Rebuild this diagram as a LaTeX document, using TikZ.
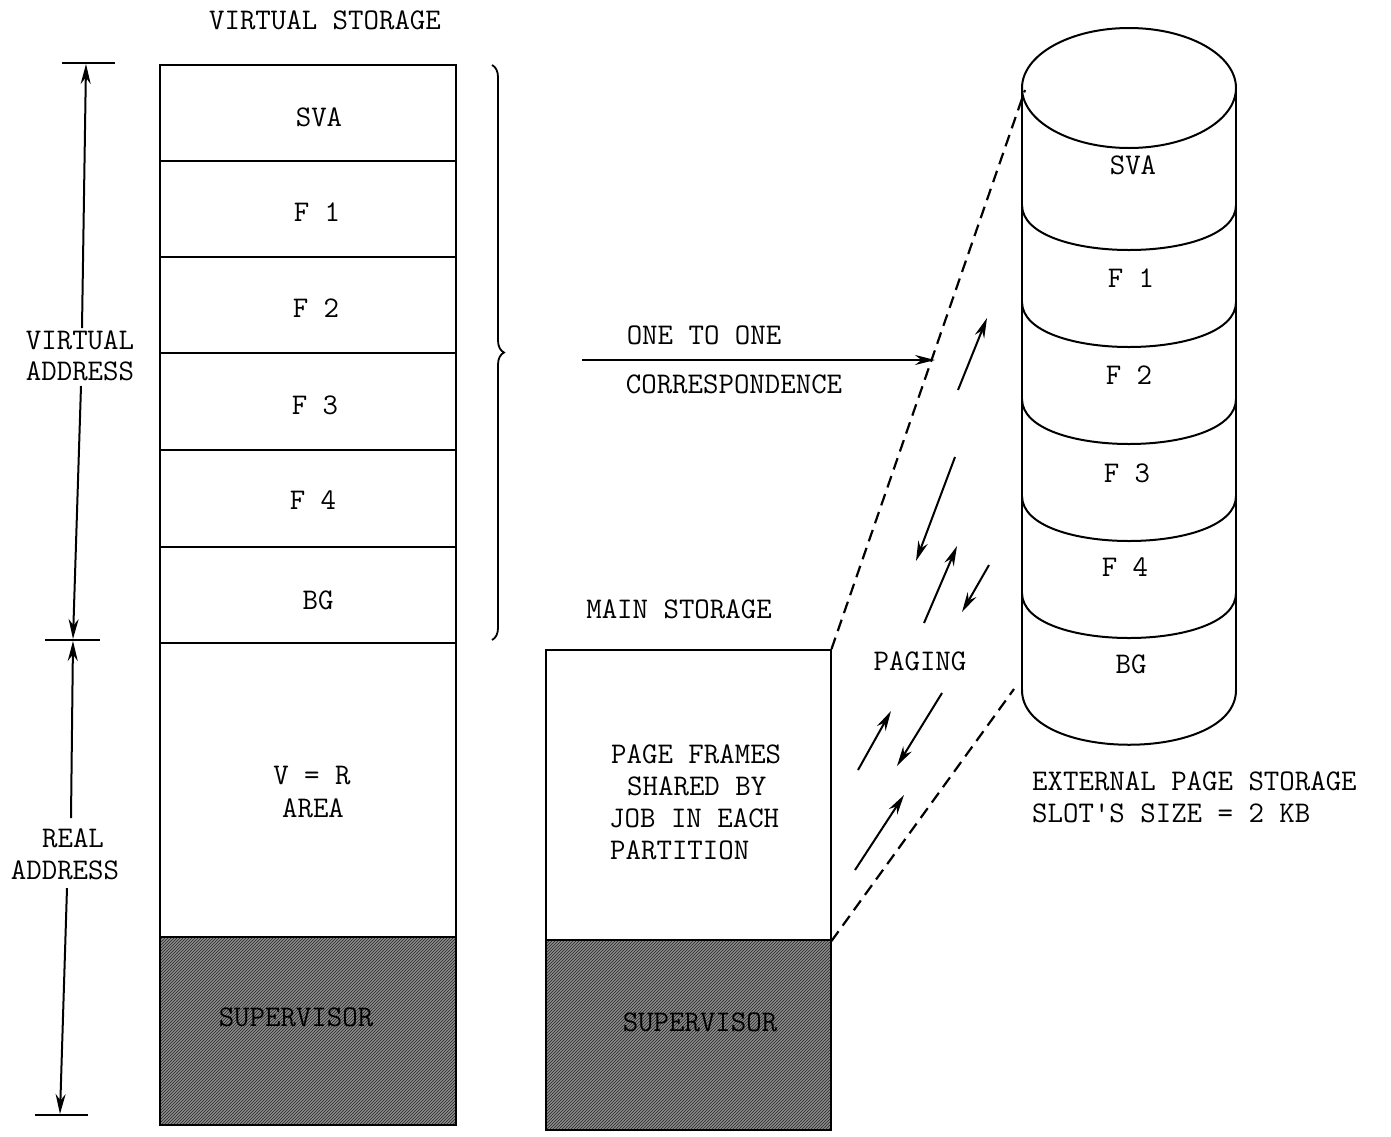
\documentclass[tikz,border=0pt]{standalone}
\usetikzlibrary{arrows.meta,patterns,decorations.pathreplacing}
\begin{document}
\begin{tikzpicture}[x=1pt,y=-1pt,
  txt/.style={font=\fontsize{30}{34}\selectfont\ttfamily, inner sep=0pt},
  box/.style={draw, line width=2pt, inner sep=0pt, font=\fontsize{30}{34}\selectfont\ttfamily},
  col/.style={box, minimum width=296pt},
  mcol/.style={box, minimum width=285pt},
  hatch/.style={preaction={fill=black!45}, pattern=north east lines, pattern color=black!85},
  ln/.style={line width=2pt},
  arr/.style={line width=2pt, -{Stealth[length=20pt,width=10pt]}},
  dashline/.style={line width=2.2pt, dash pattern=on 12pt off 7pt}]
\useasboundingbox (0,0) rectangle (1391,1136);

% ---------- virtual storage column ----------
\node[txt] (vstitle) at (325,20) {VIRTUAL STORAGE};
\node[col, minimum height=96pt] (sva) at (308,113) {};
\node[col, minimum height=96pt] (f1) at (308,209) {};
\node[col, minimum height=96pt] (f2) at (308,305) {};
\node[col, minimum height=97pt] (f3) at (308,401.5) {};
\node[col, minimum height=97pt] (f4) at (308,498.5) {};
\node[col, minimum height=96pt] (bg) at (308,595) {};
\node[col, minimum height=294pt] (vr) at (308,790) {};
\node[col, minimum height=188pt, hatch] (sup) at (308,1031) {};
\node[txt] (svat) at (319,117) {SVA};
\node[txt] (f1t) at (317,212) {F 1};
\node[txt] (f2t) at (316,308) {F 2};
\node[txt] (f3t) at (315,405) {F 3};
\node[txt] (f4t) at (313,500) {F 4};
\node[txt] (bgt) at (318,600) {BG};
\node[txt] (vrt1) at (312,775) {V = R};
\node[txt] (vrt2) at (313,808) {AREA};
\node[txt] (suptxt) at (296,1017) {SUPERVISOR};

% ---------- address axis ----------
\coordinate (t1a) at (62,63);  \coordinate (t1b) at (115,63);
\coordinate (t2a) at (45,640); \coordinate (t2b) at (100,640);
\coordinate (t3a) at (35,1115); \coordinate (t3b) at (88,1115);
\draw[ln] (t1a) -- (t1b);
\draw[ln] (t2a) -- (t2b);
\draw[ln] (t3a) -- (t3b);
\coordinate (a1s) at (82,328);  \coordinate (a1e) at (86,64);
\coordinate (a2s) at (81,386);  \coordinate (a2e) at (73,639);
\coordinate (a3s) at (71,818);  \coordinate (a3e) at (73,641);
\coordinate (a4s) at (67,888);  \coordinate (a4e) at (60,1114);
\draw[arr] (a1s) -- (a1e);
\draw[arr] (a2s) -- (a2e);
\draw[arr] (a3s) -- (a3e);
\draw[arr] (a4s) -- (a4e);
\node[txt] (virt1) at (80,340) {VIRTUAL};
\node[txt] (virt2) at (80,371) {ADDRESS};
\node[txt] (real1) at (73,838) {REAL};
\node[txt] (real2) at (65,870) {ADDRESS};

% ---------- brace ----------
\coordinate (br1) at (492,65);
\coordinate (br2) at (492,640);
\draw[line width=1.8pt, decorate, decoration={brace, amplitude=12pt, aspect=0.5}] (br1) -- (br2);

% ---------- one to one ----------
\node[txt] (one) at (704,335) {ONE TO ONE};
\node[txt] (corr) at (734,384) {CORRESPONDENCE};
\coordinate (oneS) at (582,360);
\coordinate (oneE) at (935,360);
\draw[arr] (oneS) -- (oneE);

% ---------- main storage ----------
\node[txt] (mstitle) at (679,609) {MAIN STORAGE};
\node[mcol, minimum height=290pt] (ms) at (688,795) {};
\node[mcol, minimum height=190pt, hatch] (msup) at (688,1035) {};
\node[txt, anchor=base west] (pf1) at (611,763) {PAGE FRAMES};
\node[txt, anchor=base west] (pf2) at (627,795) {SHARED BY};
\node[txt, anchor=base west] (pf3) at (609,827) {JOB IN EACH};
\node[txt, anchor=base west] (pf4) at (610,859) {PARTITION};
\node[txt] (msuptxt) at (700,1022) {SUPERVISOR};

% ---------- external page storage (cylinder) ----------
\coordinate (cTL) at (1022,88);
\coordinate (cTR) at (1236,88);
\coordinate (cBL) at (1022,690);
\coordinate (cBR) at (1236,690);
\draw[ln] (1129,88) ellipse [x radius=107, y radius=60];
\draw[ln] (cTL) -- (cBL);
\draw[ln] (cTR) -- (cBR);
\draw[ln] (cBL) .. controls (1022,763) and (1236,763) .. (cBR);
\foreach \yy in {205,302,399,496,593}{
  \draw[ln] (1022,\yy) .. controls (1022,\yy+60) and (1236,\yy+60) .. (1236,\yy);
}
\node[txt] (csva) at (1133,165) {SVA};
\node[txt] (cf1) at (1131,278) {F 1};
\node[txt] (cf2) at (1129,375) {F 2};
\node[txt] (cf3) at (1127,473) {F 3};
\node[txt] (cf4) at (1125,567) {F 4};
\node[txt] (cbg) at (1131,664) {BG};
\node[txt, anchor=west] (ext1) at (1032,781) {EXTERNAL PAGE STORAGE};
\node[txt, anchor=west] (ext2) at (1032,813) {SLOT'S SIZE = 2 KB};

% ---------- dashed correspondence lines ----------
\coordinate (cD1) at (1025,90);
\coordinate (cD2) at (1014,689);
\draw[dashline] (ms.north east) -- (cD1);
\draw[dashline] (ms.south east) -- (cD2);

% ---------- paging ----------
\node[txt] (paging) at (920,661) {PAGING};
\coordinate (p1s) at (958,390); \coordinate (p1e) at (987,318);
\coordinate (p2s) at (955,457); \coordinate (p2e) at (916,561);
\coordinate (p3s) at (924,623); \coordinate (p3e) at (957,546);
\coordinate (p4s) at (989,565); \coordinate (p4e) at (962,612);
\coordinate (p5s) at (858,770); \coordinate (p5e) at (891,711);
\coordinate (p6s) at (942,693); \coordinate (p6e) at (897,766);
\coordinate (p7s) at (855,870); \coordinate (p7e) at (904,795);
\foreach \a in {1,...,7}{ \draw[arr] (p\a s) -- (p\a e); }
\end{tikzpicture}
\end{document}
